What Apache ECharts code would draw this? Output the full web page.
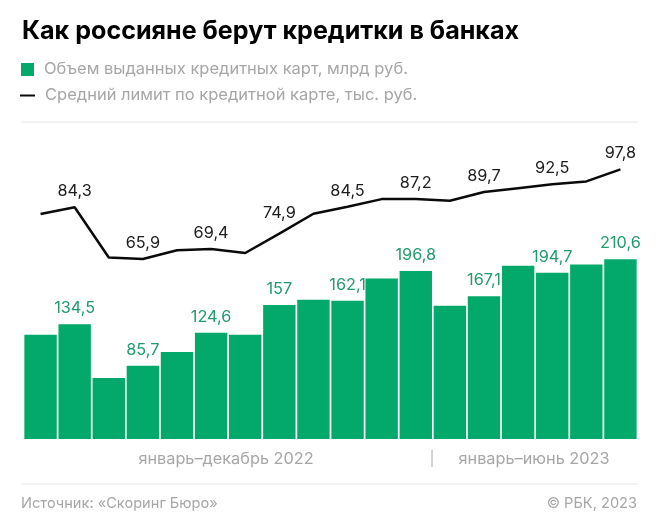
<!DOCTYPE html>
<html>
<head>
<meta charset="utf-8">
<style>html,body{margin:0;padding:0;background:#fff}#chart{width:660px;height:531px}</style>
<script src="https://cdn.jsdelivr.net/npm/echarts@6/dist/echarts.min.js"></script>
</head>
<body>
<div id="chart"></div>
<script>
// месяцы
var months = ['янв 22','фев 22','мар 22','апр 22','май 22','июн 22','июл 22','авг 22','сен 22','окт 22','ноя 22','дек 22','янв 23','фев 23','мар 23','апр 23','май 23','июн 23'];
// объем выданных карт, млрд руб.
var cardVolume = [122,134.5,71.5,85.7,102,124.6,122,157,163,162.1,188,196.8,156,167.1,203,194.7,204.5,210.6];
// средний лимит, тыс. руб.
var avgLimit = [81.9,84.3,66.4,65.9,69,69.4,68,74.9,82,84.5,87.2,87.2,86.6,89.7,91.1,92.5,93.5,97.8];
// подписи только у части точек
var volumeLabels = ['','134,5','','85,7','','124,6','','157','','162,1','','196,8','','167,1','','194,7','','210,6'];
var limitLabels = ['','84,3','','65,9','','69,4','','74,9','','84,5','','87,2','','89,7','','92,5','','97,8'];

var volumeName = 'Объем выданных кредитных карт, млрд руб.';
var limitName = 'Средний лимит по кредитной карте, тыс. руб.';
var font = 'Inter';
var grey = '#a6a6a6';
var legendText = {fontFamily: font, fontSize: 16.5, color: grey, padding: [0, 0, 0, 5]};

var myChart = echarts.init(document.getElementById('chart'));
myChart.setOption({
    animation: false,
    textStyle: {fontFamily: font},
    title: [
        {text: 'Как россияне берут кредитки в банках', left: 17, top: 14,
            textStyle: {fontFamily: font, fontSize: 25.1, fontWeight: 700, color: '#000'}},
        {text: 'январь–декабрь 2022', left: 221, top: 446, textAlign: 'center',
            textStyle: {fontFamily: font, fontSize: 16.3, fontWeight: 400, color: grey}},
        {text: 'январь–июнь 2023', left: 529, top: 446, textAlign: 'center',
            textStyle: {fontFamily: font, fontSize: 16.3, fontWeight: 400, color: grey}},
        {text: 'Источник: «Скоринг Бюро»', left: 16, top: 491,
            textStyle: {fontFamily: font, fontSize: 14.6, fontWeight: 400, color: grey}},
        {text: '© РБК, 2023', right: 18, top: 491,
            textStyle: {fontFamily: font, fontSize: 14.6, fontWeight: 400, color: grey}}
    ],
    // две легенды: у столбцов квадрат, у линии короткий штрих
    legend: [
        {left: 16, top: 56, itemWidth: 13, itemHeight: 13, icon: 'rect', textStyle: legendText, data: [volumeName]},
        {left: 15, top: 82, itemWidth: 15, itemHeight: 2, icon: 'rect', textStyle: legendText, data: [limitName]}
    ],
    grid: {left: 23.5, right: 22.5, top: 130, bottom: 92},
    xAxis: {type: 'category', data: months, axisLine: {show: false}, axisTick: {show: false}, axisLabel: {show: false}},
    yAxis: [
        {type: 'value', min: 0, max: 362, show: false, splitLine: {show: false}},
        {type: 'value', min: 1.8, max: 111.8, show: false, splitLine: {show: false}}
    ],
    series: [
        {
            name: volumeName, type: 'bar', data: cardVolume, barCategoryGap: '5%',
            itemStyle: {color: '#03a96a'},
            label: {
                show: true, position: 'top', distance: 8, fontFamily: font, fontSize: 16.3, color: '#229b6c',
                formatter: function (p) { return volumeLabels[p.dataIndex]; }
            }
        },
        {
            name: limitName, type: 'line', yAxisIndex: 1, symbol: 'circle', symbolSize: 0, showSymbol: true,
            // подпись 74,9 стоит чуть выше остальных
            data: avgLimit.map(function (v, i) {
                return i === 7 ? {value: v, label: {distance: 13}} : v;
            }),
            lineStyle: {color: '#0a0a0a', width: 2.5},
            itemStyle: {color: '#0a0a0a'},
            label: {
                show: true, position: 'top', distance: 8, fontFamily: font, fontSize: 16.3, color: '#1c1c1c',
                formatter: function (p) { return limitLabels[p.dataIndex]; }
            }
        }
    ],
    graphic: [
        {type: 'line', shape: {x1: 21, y1: 122, x2: 638, y2: 122}, style: {stroke: '#e6e6e6', lineWidth: 1}},
        {type: 'line', shape: {x1: 21, y1: 484, x2: 638, y2: 484}, style: {stroke: '#e6e6e6', lineWidth: 1}},
        {type: 'line', shape: {x1: 432, y1: 450, x2: 432, y2: 467}, style: {stroke: grey, lineWidth: 1}}
    ]
});
</script>
</body>
</html>
